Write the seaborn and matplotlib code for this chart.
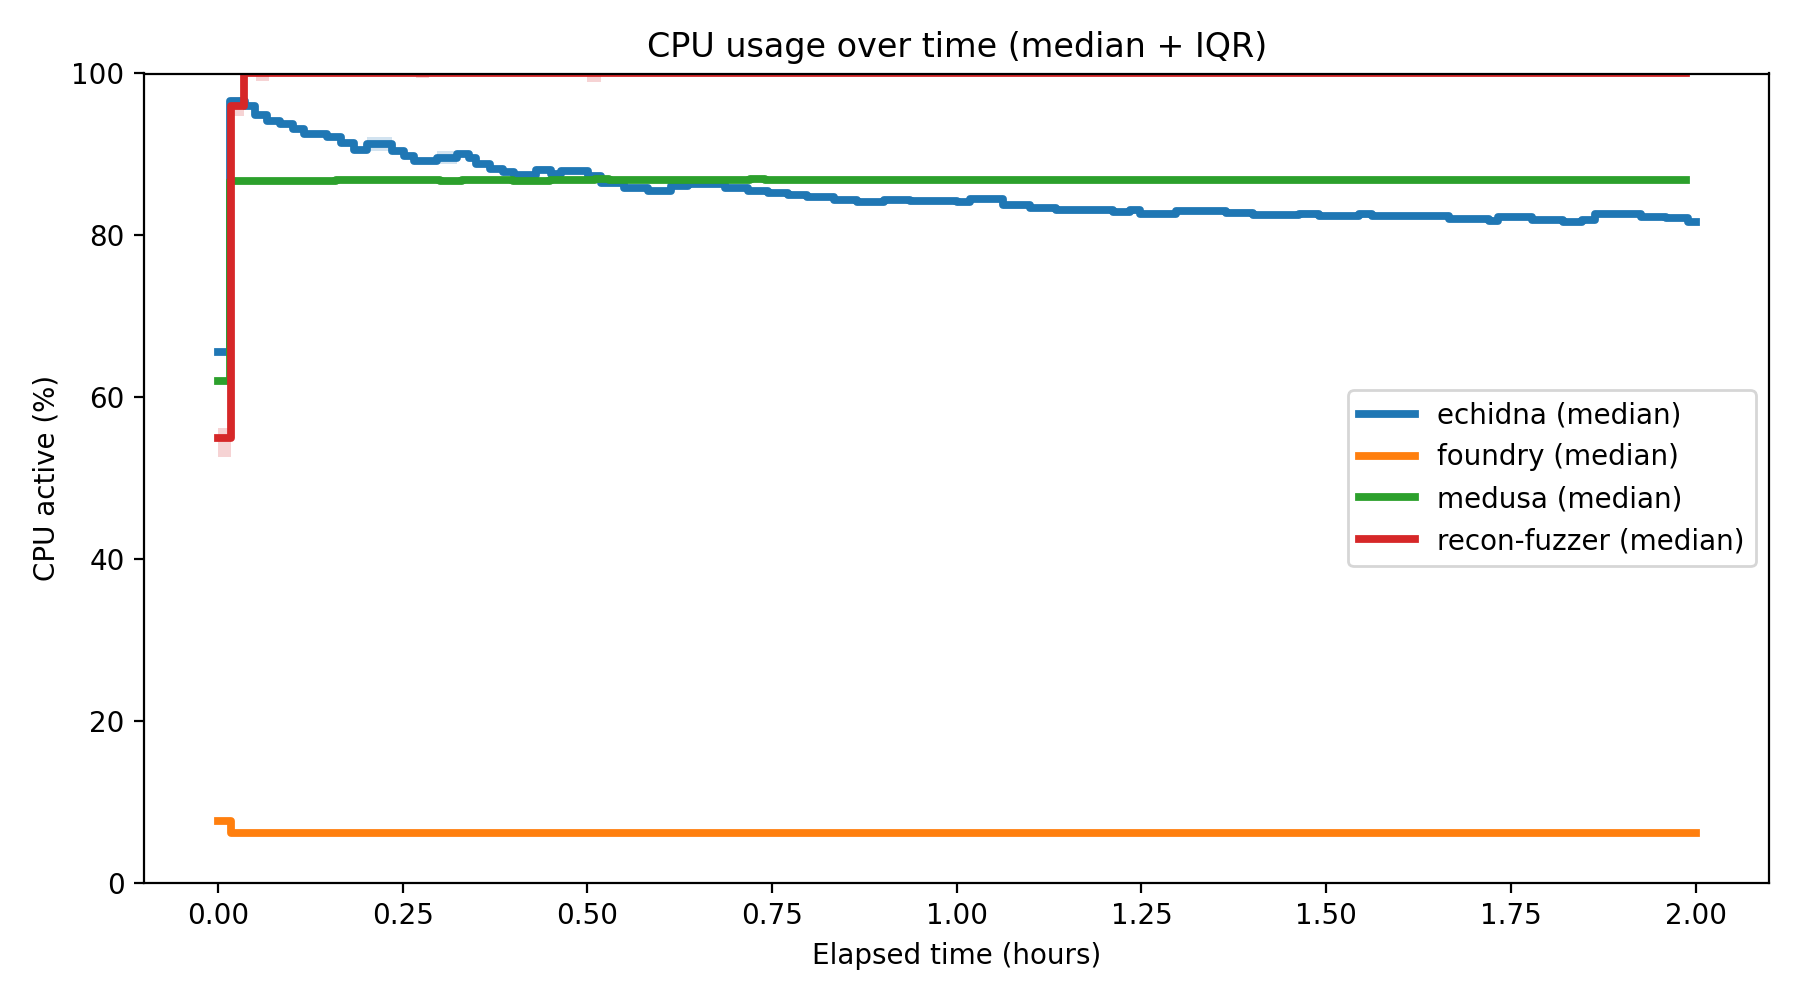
import matplotlib
matplotlib.use('Agg')
import matplotlib.pyplot as plt
import seaborn as sns

# elapsed time (hours) where each step starts, median CPU %, and IQR bounds
echidna_t = [0.000, 0.016, 0.037, 0.050, 0.066, 0.084, 0.101, 0.117, 0.148, 0.166,
             0.184, 0.202, 0.236, 0.252, 0.265, 0.296, 0.323, 0.340, 0.350, 0.368,
             0.386, 0.401, 0.431, 0.451, 0.465, 0.501, 0.519, 0.550, 0.582, 0.613,
             0.636, 0.686, 0.717, 0.745, 0.772, 0.798, 0.834, 0.865, 0.901, 0.937,
             1.000, 1.018, 1.063, 1.099, 1.135, 1.211, 1.234, 1.248, 1.297, 1.365,
             1.401, 1.463, 1.490, 1.544, 1.562, 1.666, 1.720, 1.733, 1.778, 1.820,
             1.846, 1.864, 1.926, 1.960, 1.990, 2.000]
echidna_med = [65.6, 96.6, 96.0, 94.9, 94.1, 93.7, 93.1, 92.5, 92.2, 91.4,
               90.6, 91.3, 90.4, 89.8, 89.2, 89.6, 90.1, 89.6, 88.8, 88.2,
               87.8, 87.4, 88.1, 87.6, 88.0, 87.3, 86.5, 85.9, 85.5, 86.1,
               86.3, 85.9, 85.5, 85.2, 85.0, 84.8, 84.4, 84.1, 84.4, 84.3,
               84.1, 84.5, 83.7, 83.4, 83.1, 82.9, 83.1, 82.7, 83.0, 82.8,
               82.5, 82.7, 82.4, 82.6, 82.4, 82.0, 81.8, 82.3, 81.9, 81.7,
               81.9, 82.6, 82.3, 82.1, 81.7, 81.7]
echidna_q1 = [65.4, 96.3, 95.8, 94.7, 93.9, 93.5, 92.9, 92.3, 92.0, 91.2,
              90.4, 90.4, 90.2, 89.6, 89.0, 88.8, 89.9, 89.4, 88.6, 88.0,
              87.6, 87.2, 87.9, 87.4, 87.8, 87.1, 86.2, 85.6, 85.2, 85.8,
              86.0, 85.6, 85.2, 84.9, 84.7, 84.5, 84.1, 83.8, 84.0, 84.0,
              83.8, 84.1, 83.3, 83.0, 82.7, 82.5, 82.7, 82.3, 82.6, 82.4,
              82.2, 82.3, 82.0, 82.2, 82.0, 81.7, 81.5, 82.0, 81.6, 81.4,
              81.6, 82.3, 82.0, 81.8, 81.5, 81.5]
echidna_q3 = [65.8, 96.9, 96.2, 95.1, 94.3, 93.9, 93.3, 92.7, 92.4, 91.6,
              90.8, 92.1, 90.6, 90.0, 89.4, 90.4, 90.3, 89.8, 89.0, 88.4,
              88.0, 87.6, 88.6, 87.8, 88.3, 87.5, 86.8, 86.2, 85.8, 86.4,
              86.6, 86.2, 85.8, 85.5, 85.3, 85.1, 84.7, 84.4, 84.8, 84.6,
              84.4, 84.9, 84.1, 83.8, 83.5, 83.3, 83.5, 83.1, 83.4, 83.2,
              82.8, 83.1, 82.8, 83.0, 82.8, 82.3, 82.1, 82.6, 82.2, 82.0,
              82.2, 82.9, 82.6, 82.4, 82.0, 82.0]

foundry_t = [0.000, 0.018, 2.000]
foundry_med = [7.6, 6.2, 6.2]
foundry_q1 = [7.5, 6.1, 6.1]
foundry_q3 = [7.7, 6.3, 6.3]

medusa_t = [0.000, 0.016, 0.090, 0.160, 0.260, 0.300, 0.330, 0.400, 0.450, 0.480,
            0.510, 0.530, 0.720, 0.740, 1.987]
medusa_med = [62.0, 86.7, 86.7, 86.8, 86.8, 86.7, 86.8, 86.7, 86.8, 86.9,
              87.0, 86.9, 87.0, 86.9, 86.9]
medusa_q1 = [61.8, 86.5, 86.5, 86.6, 86.6, 86.5, 86.6, 86.5, 86.6, 86.7,
             86.8, 86.7, 86.8, 86.7, 86.7]
medusa_q3 = [62.2, 86.9, 86.9, 87.0, 87.0, 86.9, 87.0, 86.9, 87.0, 87.1,
             87.2, 87.1, 87.2, 87.1, 87.1]

recon_t = [0.000, 0.018, 0.035, 0.051, 0.069, 0.268, 0.286, 0.500, 0.518, 0.717,
           0.734, 1.987]
recon_med = [55.0, 96.0, 100.0, 100.0, 100.0, 100.0, 100.0, 100.0, 100.0, 100.0,
             100.0, 100.0]
recon_q1 = [52.6, 94.8, 100.0, 99.1, 100.0, 99.4, 100.0, 98.9, 100.0, 99.8,
            100.0, 100.0]
recon_q3 = [56.2, 97.1, 100.0, 100.0, 100.0, 100.0, 100.0, 100.0, 100.0, 100.0,
            100.0, 100.0]

tools = ['echidna', 'foundry', 'medusa', 'recon-fuzzer']
series = {
    'echidna': (echidna_t, echidna_med, echidna_q1, echidna_q3),
    'foundry': (foundry_t, foundry_med, foundry_q1, foundry_q3),
    'medusa': (medusa_t, medusa_med, medusa_q1, medusa_q3),
    'recon-fuzzer': (recon_t, recon_med, recon_q1, recon_q3),
}
colors = sns.color_palette('tab10', 4)

fig, ax = plt.subplots(figsize=(9, 5), dpi=200)

for tool, c in zip(tools, colors):
    t, med, q1, q3 = series[tool]
    ax.fill_between(t, q1, q3, step='post', color=c, alpha=0.2, linewidth=0)
    sns.lineplot(x=t, y=med, ax=ax, color=c, linewidth=2.8, drawstyle='steps-post',
                 estimator=None, sort=False, label=f'{tool} (median)')

ax.set_ylim(0, 100)
ax.set_xlim(-0.1, 2.1)
ax.set_title('CPU usage over time (median + IQR)')
ax.set_xlabel('Elapsed time (hours)')
ax.set_ylabel('CPU active (%)')
ax.legend(loc='center right')

plt.subplots_adjust(left=0.08, right=0.983, top=0.9265, bottom=0.117)
plt.savefig('out.png', dpi=200)
plt.close(fig)
